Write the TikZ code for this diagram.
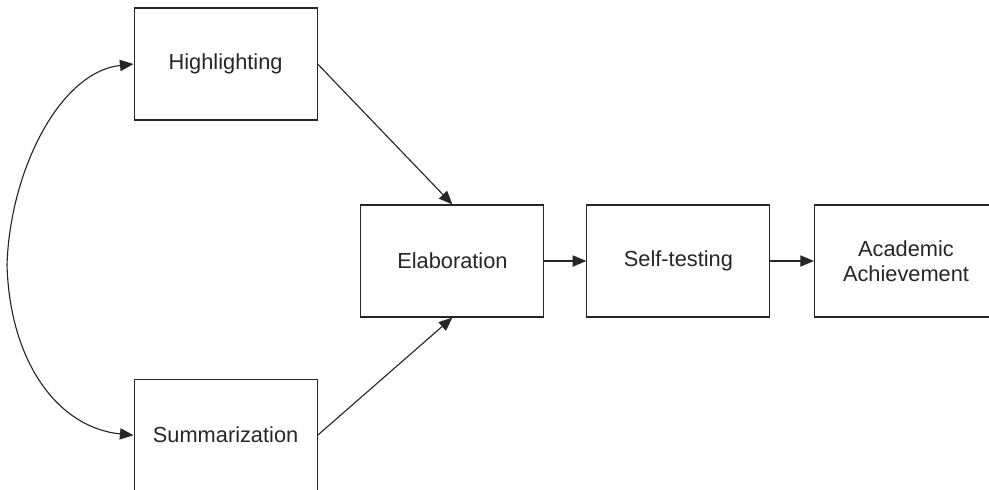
\documentclass[tikz,border=0pt]{standalone}
\usepackage{fontspec}
\setmainfont{Liberation Sans}
\usepackage{tikz}
\usetikzlibrary{arrows.meta,positioning}

\begin{document}
\begin{tikzpicture}[
  box/.style={draw=black!85, line width=0.8pt, minimum width=4.575cm,
              minimum height=2.8cm, align=center, inner sep=0pt,
              font=\fontsize{15.5}{18.2}\selectfont, text=black!85},
  link/.style={draw=black!85, line width=0.8pt},
  >={Triangle[length=3.4mm,width=2.8mm]}]
\useasboundingbox (0,0) rectangle (24.725,-12.225);
\clip (0,0) rectangle (24.725,-12.225);
\node[box] (hl) at (5.64,-1.6) {Highlighting};
\node[box] (sum) at (5.64,-10.88) {Summarization};
\node[box] (elab) at (11.31,-6.525) {Elaboration};
\node[box] (self) at (16.96,-6.525) {Self-testing};
\node[box] (ach) at (22.65,-6.525) {Academic\\Achievement};
% covariance between the two strategies
\coordinate (bend) at (0.175,-6.625);
\draw[link, <->] (hl.west) .. controls (1.5,-1.8) and (0.25,-4.25) .. (bend)
  .. controls (0.25,-9.125) and (1.5,-10.7) .. (sum.west);
\draw[link, ->] (hl.east) -- (elab.north);
\draw[link, ->] (sum.east) -- (elab.south);
\draw[link, ->] (elab) -- (self);
\draw[link, ->] (self) -- (ach);
\end{tikzpicture}
\end{document}
